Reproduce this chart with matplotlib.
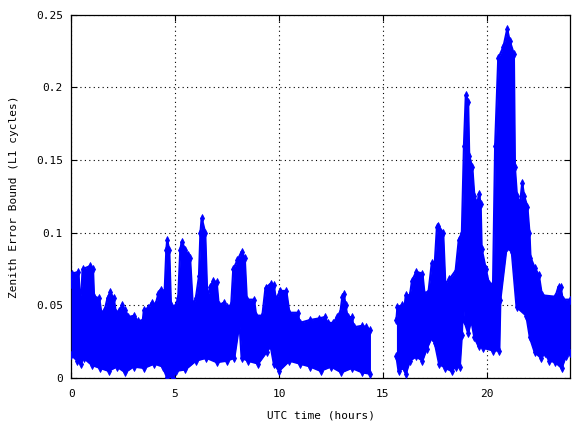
import numpy as np
import matplotlib
matplotlib.use("Agg")
import matplotlib.pyplot as plt
from matplotlib.ticker import FixedLocator, FixedFormatter

# Zenith error bound envelope (L1 cycles) versus UTC time (hours).
# Morning pass: upper and lower bounds of the scatter.
hours_a_upper = [0.0, 0.05, 0.35, 0.42, 0.5, 0.55, 0.9, 1.05, 1.1, 1.35, 1.45, 1.6, 1.75, 1.88,
                 2.05, 2.15, 2.3, 2.45, 2.6, 2.75, 3.04, 3.2, 3.45, 3.5, 3.7, 3.88, 4.05, 4.2,
                 4.3, 4.5, 4.58, 4.62, 4.72, 4.8, 5.0, 5.15, 5.25, 5.32, 5.5, 5.62, 5.72, 5.85,
                 6.0, 6.15, 6.22, 6.28, 6.45, 6.55, 6.7, 6.84, 7.0, 7.1, 7.35, 7.5, 7.7, 7.8,
                 8.0, 8.2, 8.35, 8.45, 8.8, 8.9, 9.2, 9.35, 9.6, 9.75, 9.85, 10.05, 10.35,
                 10.5, 10.9, 11.0, 11.5, 11.9, 12.2, 12.35, 12.6, 12.8, 12.95, 13.05, 13.12,
                 13.2, 13.3, 13.5, 13.6, 14.0, 14.2, 14.4]
bound_a_upper = [0.065, 0.072, 0.073, 0.055, 0.060, 0.075, 0.077, 0.075, 0.056, 0.055, 0.045,
                 0.046, 0.055, 0.059, 0.055, 0.045, 0.046, 0.050, 0.047, 0.042, 0.043, 0.039,
                 0.040, 0.047, 0.048, 0.052, 0.050, 0.058, 0.061, 0.060, 0.088, 0.095, 0.088,
                 0.050, 0.049, 0.055, 0.088, 0.094, 0.088, 0.085, 0.083, 0.050, 0.055, 0.070,
                 0.100, 0.110, 0.100, 0.055, 0.063, 0.067, 0.066, 0.050, 0.052, 0.049, 0.050,
                 0.075, 0.081, 0.087, 0.083, 0.054, 0.054, 0.043, 0.043, 0.062, 0.065, 0.064,
                 0.054, 0.060, 0.060, 0.045, 0.045, 0.038, 0.040, 0.041, 0.042, 0.038, 0.038,
                 0.042, 0.045, 0.056, 0.058, 0.050, 0.042, 0.042, 0.035, 0.036, 0.035, 0.033]

hours_a_lower = [0.0, 0.3, 0.45, 0.6, 1.0, 1.4, 1.8, 2.2, 2.6, 3.0, 3.5, 4.0, 4.4, 4.6, 4.9,
                 5.05, 5.5, 6.0, 6.5, 7.0, 7.5, 7.85, 8.1, 8.2, 8.5, 9.0, 9.4, 9.6, 9.75, 10.0,
                 10.5, 11.0, 11.5, 12.0, 12.5, 13.0, 13.5, 14.0, 14.4]
bound_a_lower = [0.016, 0.012, 0.010, 0.014, 0.009, 0.007, 0.005, 0.008, 0.004, 0.008, 0.007,
                 0.010, 0.008, 0.001, 0.000, 0.005, 0.006, 0.012, 0.014, 0.011, 0.012, 0.014,
                 0.038, 0.014, 0.012, 0.010, 0.018, 0.022, 0.010, 0.005, 0.012, 0.010, 0.008,
                 0.005, 0.008, 0.004, 0.007, 0.004, 0.003]

# Evening pass.
hours_b_upper = [15.65, 15.7, 15.9, 16.05, 16.1, 16.3, 16.4, 16.6, 16.9, 17.0, 17.2, 17.35,
                 17.5, 17.6, 17.66, 17.9, 18.0, 18.2, 18.5, 18.65, 18.8, 18.9, 18.99, 19.1,
                 19.15, 19.3, 19.4, 19.55, 19.62, 19.7, 19.75, 19.95, 20.1, 20.3, 20.4, 20.55,
                 20.8, 20.98, 21.1, 21.3, 21.35, 21.45, 21.6, 21.7, 21.8, 21.95, 22.05, 22.1,
                 22.3, 22.5, 22.65, 23.3, 23.45, 23.55, 23.65, 24.0]
bound_b_upper = [0.040, 0.049, 0.050, 0.050, 0.057, 0.057, 0.067, 0.073, 0.072, 0.058, 0.060,
                 0.079, 0.080, 0.104, 0.105, 0.100, 0.065, 0.068, 0.074, 0.095, 0.100, 0.160,
                 0.195, 0.190, 0.153, 0.145, 0.125, 0.120, 0.127, 0.120, 0.089, 0.075, 0.065,
                 0.065, 0.160, 0.220, 0.228, 0.240, 0.232, 0.223, 0.145, 0.125, 0.120, 0.134,
                 0.125, 0.118, 0.100, 0.083, 0.076, 0.071, 0.057, 0.056, 0.063, 0.063, 0.054,
                 0.054]

hours_b_lower = [15.65, 15.75, 16.0, 16.1, 16.3, 16.6, 16.9, 17.1, 17.35, 17.5, 17.7, 18.0,
                 18.3, 18.5, 18.7, 18.8, 18.85, 18.9, 19.1, 19.25, 19.4, 19.6, 19.8, 20.3,
                 20.6, 20.65, 20.95, 21.2, 21.43, 21.9, 22.07, 22.3, 22.6, 22.8, 23.0, 23.3,
                 23.6, 23.8, 24.0]
bound_b_lower = [0.015, 0.005, 0.007, 0.003, 0.012, 0.015, 0.012, 0.020, 0.028, 0.024, 0.010,
                 0.007, 0.005, 0.008, 0.008, 0.030, 0.054, 0.040, 0.031, 0.040, 0.028, 0.022,
                 0.021, 0.019, 0.019, 0.054, 0.090, 0.087, 0.049, 0.043, 0.028, 0.018, 0.014,
                 0.017, 0.012, 0.011, 0.007, 0.015, 0.017]

x_ticks = [0, 5, 10, 15, 20]
x_tick_labels = ["0", "5", "10", "15", "20"]
y_ticks = [0, 0.05, 0.1, 0.15, 0.2, 0.25]
y_tick_labels = ["0", "0.05", "0.1", "0.15", "0.2", "0.25"]

plt.rcParams['font.family'] = ['DejaVu Sans Mono', 'DejaVu Sans']

fig = plt.figure(figsize=(5.74, 4.23), dpi=100)
ax = fig.add_axes([0.124, 0.106, 0.869, 0.859])

blue = (0.0, 0.0, 1.0)


def draw_pass(hu, vu, hl, vl):
    # common time grid from both envelope sample sets
    grid = np.union1d(hu, hl)
    up = np.interp(grid, hu, vu)
    lo = np.interp(grid, hl, vl)
    ax.fill_between(grid, lo, up, color=blue, linewidth=0, zorder=3)
    ax.plot(hu, vu, color=blue, linewidth=1.6, marker='d', markersize=4,
            markeredgewidth=0.6, zorder=4)
    ax.plot(hl, vl, color=blue, linewidth=1.6, marker='d', markersize=4,
            markeredgewidth=0.6, zorder=4)


draw_pass(hours_a_upper, bound_a_upper, hours_a_lower, bound_a_lower)
draw_pass(hours_b_upper, bound_b_upper, hours_b_lower, bound_b_lower)

ax.set_xlim(0, 24)
ax.set_ylim(0, 0.25)
ax.xaxis.set_major_locator(FixedLocator(x_ticks))
ax.xaxis.set_major_formatter(FixedFormatter(x_tick_labels))
ax.yaxis.set_major_locator(FixedLocator(y_ticks))
ax.yaxis.set_major_formatter(FixedFormatter(y_tick_labels))

ax.grid(True, linestyle=(0, (1, 3)), color='black', linewidth=0.8, zorder=1)
ax.set_axisbelow(True)
ax.tick_params(direction='in', top=True, right=True, length=4, width=0.8,
               labelsize=8, pad=6)
ax.tick_params(axis='x', pad=8)
for sp in ax.spines.values():
    sp.set_linewidth(0.9)

ax.set_xlabel("UTC time (hours)", fontsize=8, labelpad=8)
ax.set_ylabel("Zenith Error Bound (L1 cycles)", fontsize=8, labelpad=12)

fig.savefig("out.png", dpi=100, facecolor='white')
